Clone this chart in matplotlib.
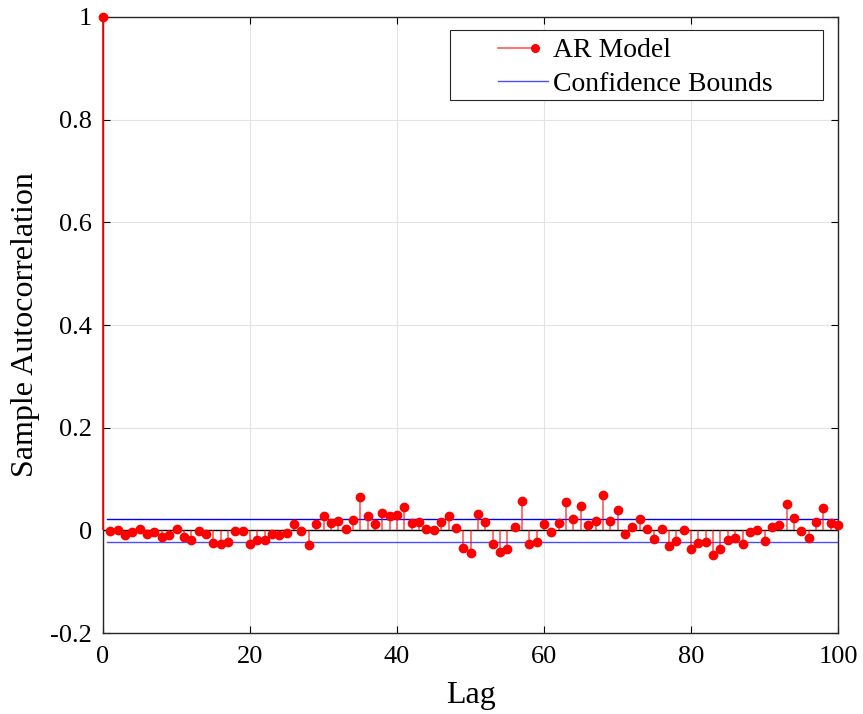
import numpy as np
import matplotlib
matplotlib.use('Agg')
import matplotlib.pyplot as plt
from matplotlib.lines import Line2D
from matplotlib.patches import Rectangle
from matplotlib.legend_handler import HandlerBase

# ─── Data ─────────────────────────────────────────────────────────────────────

lags = list(range(0, 101))
acf = [
    1.000,
    -0.001, 0.001, -0.009, -0.003, 0.002, -0.008, -0.004, -0.012, -0.009, 0.003,
    -0.012, -0.019, -0.002, -0.008, -0.024, -0.027, -0.023, -0.001, -0.002, -0.027,
    -0.019, -0.018, -0.008, -0.010, -0.005, 0.013, -0.001, -0.028, 0.012, 0.027,
    0.014, 0.018, 0.003, 0.021, 0.065, 0.027, 0.013, 0.034, 0.027, 0.030,
    0.045, 0.015, 0.017, 0.003, 0.000, 0.017, 0.027, 0.004, -0.034, -0.045,
    0.031, 0.016, -0.027, -0.042, -0.037, 0.006, 0.057, -0.026, -0.023, 0.013,
    -0.003, 0.014, 0.056, 0.023, 0.047, 0.010, 0.019, 0.068, 0.018, 0.040,
    -0.007, 0.006, 0.023, 0.003, -0.016, 0.002, -0.031, -0.021, 0.001, -0.036,
    -0.025, -0.022, -0.048, -0.037, -0.018, -0.015, -0.027, -0.004, 0.001, -0.020,
    0.007, 0.010, 0.051, 0.025, -0.001, -0.014, 0.016, 0.043, 0.015, 0.010,
]
bound = 0.0219
bound_x = [0.5, 100]

x_ticks = [0, 20, 40, 60, 80, 100]
y_ticks = [-0.2, 0, 0.2, 0.4, 0.6, 0.8, 1]
y_labels = ['-0.2', '0', '0.2', '0.4', '0.6', '0.8', '1']

# ─── Style ────────────────────────────────────────────────────────────────────

plt.rcParams['font.family'] = ['Liberation Serif', 'DejaVu Serif']

STEM_COLOR = (1.0, 0.0, 0.0, 0.65)
DOT_COLOR = 'red'
LOW_BLUE = (0.3, 0.3, 1.0)


class StemHandler(HandlerBase):
    # MATLAB-style stem legend: line with the marker at its right end
    def create_artists(self, legend, orig_handle, xdescent, ydescent,
                       width, height, fontsize, trans):
        y = height / 2 - ydescent
        x0 = -xdescent
        x1 = x0 + width * 0.74
        line = Line2D([x0, x1], [y, y], color=STEM_COLOR, lw=1.2)
        dot = Line2D([x1], [y], marker='o', color=DOT_COLOR, ms=5.5,
                     linestyle='none')
        line.set_transform(trans)
        dot.set_transform(trans)
        return [line, dot]


fig = plt.figure(figsize=(8.63, 7.14), dpi=100)
ax = fig.add_axes([0.1194, 0.1134, 0.8517, 0.8628])

# stems + markers (not clipped: the lag-0 stem sits on the left spine,
# where it is drawn fully opaque on top of the axis line)
stem_colors = ['red' if i == 0 else STEM_COLOR for i in range(len(lags))]
ax.vlines(lags, 0, acf, colors=stem_colors, lw=1.2, zorder=3, clip_on=False)
ax.plot(lags, acf, 'o', color=DOT_COLOR, ms=6, zorder=4, clip_on=False)
ax.plot([0, 100], [0, 0], color='black', lw=1.0, zorder=2)

# confidence bounds
ax.plot(bound_x, [bound, bound], color='blue', lw=1.0, zorder=2)
ax.plot(bound_x, [-bound, -bound], color=LOW_BLUE, lw=1.0, zorder=2)

ax.set_xlim(0, 100)
ax.set_ylim(-0.2, 1)
ax.set_xticks(x_ticks)
ax.set_yticks(y_ticks)
ax.set_yticklabels(y_labels)
ax.tick_params(direction='in', length=5, width=0.8, labelsize=19,
               top=True, right=True)
ax.tick_params(axis='x', pad=9)
ax.tick_params(axis='y', pad=8)
ax.grid(True, color='#e3e3e3', lw=0.8)
ax.set_axisbelow(True)
for sp in ax.spines.values():
    sp.set_color('#262626')
    sp.set_linewidth(1.0)
    sp.set_zorder(2.5)

ax.set_xlabel('Lag', fontsize=23, labelpad=10)
ax.set_ylabel('Sample Autocorrelation', fontsize=23, labelpad=7)

# legend: frame drawn by hand so the padding matches the MATLAB box
ax.add_patch(Rectangle((0.4718, 0.8653), 0.5078, 0.1136,
                       transform=ax.transAxes, facecolor='white',
                       edgecolor='#262626', lw=0.8, zorder=5))
stem_proxy = Line2D([], [], color=STEM_COLOR)
bound_proxy = Line2D([], [], color=LOW_BLUE, lw=1.0)
leg = ax.legend([stem_proxy, bound_proxy], ['AR Model', 'Confidence Bounds'],
                handler_map={stem_proxy: StemHandler()},
                loc='upper left', bbox_to_anchor=(0.537, 0.966),
                borderaxespad=0, borderpad=0, fontsize=20, frameon=False,
                handlelength=1.8, handletextpad=0.2, labelspacing=0.3)
leg.set_zorder(6)

fig.savefig('out.png', dpi=100)
